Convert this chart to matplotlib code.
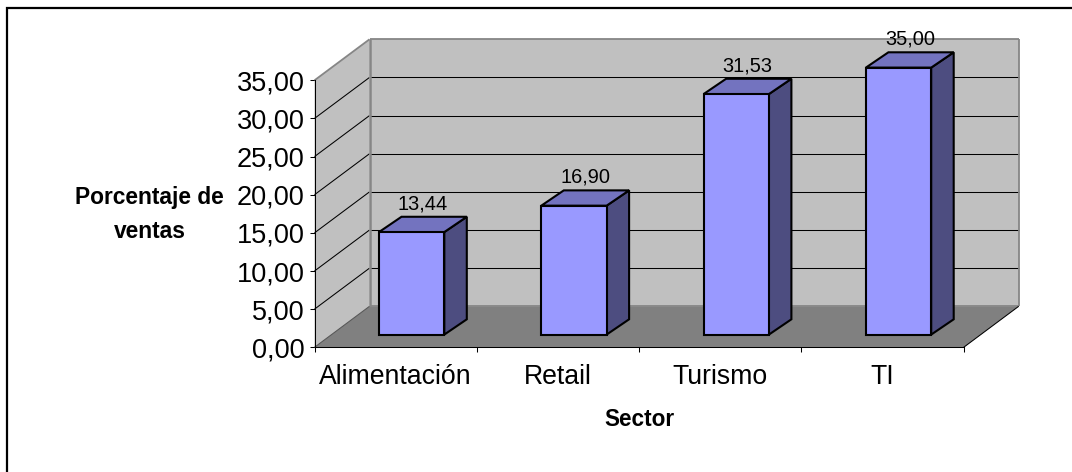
import matplotlib
matplotlib.use("Agg")
import matplotlib.pyplot as plt
from matplotlib.patches import Polygon
from matplotlib.lines import Line2D

plt.rcParams['font.family'] = ['Liberation Sans', 'DejaVu Sans']

categories = ["Alimentación", "Retail", "Turismo", "TI"]
values = [13.44, 16.90, 31.53, 35.00]
y_ticks = [0, 5, 10, 15, 20, 25, 30, 35]
y_tick_labels = ["0,00", "5,00", "10,00", "15,00", "20,00", "25,00", "30,00", "35,00"]
y_title = "Porcentaje de\nventas"
x_title = "Sector"

W, H = 1072, 472
fig = plt.figure(figsize=(W / 100, H / 100), dpi=100, facecolor="white")

# front plane of the 3D box, in pixels
L, R, T, B = 314.5, 963.7, 80.3, 347.3
ax = fig.add_axes([L / W, 1 - B / H, (R - L) / W, (B - T) / H])
n = len(categories)
ymax = y_ticks[-1]
ax.set_xlim(0, n)
ax.set_ylim(0, ymax)
ax.patch.set_visible(False)
px_x = n / (R - L)       # data units per pixel
px_y = ymax / (B - T)

# depth of the box and of the bars, expressed in data units
DX, DY = 55 * px_x, 41 * px_y
BX0, BY0 = 16 * px_x, 12.7 * px_y
BDX, BDY = 22.5 * px_x, 15.3 * px_y
BW = 65.3 * px_x

WALL, FLOOR, EDGE = "#C0C0C0", "#808080", "#868686"
FRONT, TOP, SIDE = "#9999FF", "#7373BF", "#4D4D80"
LW = 0.75


def poly(pts, fc, ec="none", lw=0, z=1):
    ax.add_patch(Polygon(pts, closed=True, facecolor=fc, edgecolor=ec, linewidth=lw,
                         zorder=z, clip_on=False, joinstyle="miter"))


def line(xs, ys, c="black", lw=LW, z=2):
    ax.add_line(Line2D(xs, ys, color=c, lw=lw, zorder=z, clip_on=False, solid_capstyle="butt"))


# walls and floor
poly([(0, 0), (DX, DY), (DX, ymax + DY), (0, ymax)], WALL)
poly([(DX, DY), (n + DX, DY), (n + DX, ymax + DY), (DX, ymax + DY)], WALL)
poly([(0, 0), (n, 0), (n + DX, DY), (DX, DY)], FLOOR)

# gridlines
for t in y_ticks[1:-1]:
    line([0, DX], [t, t + DY])
    line([DX, n + DX], [t + DY, t + DY])

# wall outlines
line([0, DX], [ymax, ymax + DY], EDGE, 1.3, 3)
line([DX, n + DX], [ymax + DY, ymax + DY], EDGE, 1.3, 3)
line([DX, DX], [DY, ymax + DY], EDGE, 1.8, 3)
line([n + DX, n + DX], [DY, ymax + DY], EDGE, 1.3, 3)
line([DX, n + DX], [DY, DY], EDGE, 1.3, 3)
line([0, DX], [0, DY], "#555555", LW, 3)
line([n, n + DX], [0, DY], "black", LW, 3)

# bars
for i, v in enumerate(values):
    x0 = i + 0.5 + BX0 - BW / 2
    x1 = x0 + BW
    y0 = BY0
    y1 = BY0 + v
    kw = dict(ec="black", lw=1.5, z=5)
    poly([(x1, y0), (x1 + BDX, y0 + BDY), (x1 + BDX, y1 + BDY), (x1, y1)], SIDE, **kw)
    poly([(x0, y1), (x1, y1), (x1 + BDX, y1 + BDY), (x0 + BDX, y1 + BDY)], TOP, **kw)
    poly([(x0, y0), (x1, y0), (x1, y1), (x0, y1)], FRONT, **kw)
    ax.annotate(f"{v:.2f}".replace(".", ","), xy=((x0 + x1 + BDX) / 2, y1 + BDY),
                xytext=(0, 5.4), textcoords="offset points", ha="center", va="baseline",
                fontsize=14.4, color="black", zorder=6, annotation_clip=False)

# axes
for s in ("top", "right"):
    ax.spines[s].set_visible(False)
for s in ("left", "bottom"):
    ax.spines[s].set_linewidth(LW)
    ax.spines[s].set_zorder(4)
ax.set_yticks(y_ticks)
ax.set_yticklabels(y_tick_labels, fontsize=19.5)
ax.tick_params(axis="y", length=3.6, width=LW, pad=3.5)
ax.set_xticks(range(n + 1))
ax.set_xticklabels([])
ax.tick_params(axis="x", which="major", length=3.6, width=LW)
ax.set_xticks([i + 0.5 for i in range(n)], minor=True)
ax.set_xticklabels(categories, minor=True, fontsize=19.2)
ax.tick_params(axis="x", which="minor", length=0, pad=12.3)

# titles
fig.text(149.5 / W, 1 - 214.5 / H, y_title, ha="center", va="center", fontsize=16.4, fontweight="bold",
         linespacing=1.62)
fig.text(639 / W, 1 - 420 / H, x_title, ha="center", va="center", fontsize=16.3, fontweight="bold")

# chart area border (only top and left fall inside the picture)
fig.add_artist(Line2D([7 / W, 7 / W, 1], [0, 1 - 7.5 / H, 1 - 7.5 / H], color="black", lw=1.6,
                      transform=fig.transFigure, solid_joinstyle="miter"))

fig.savefig("out.png", dpi=100, facecolor="white")
